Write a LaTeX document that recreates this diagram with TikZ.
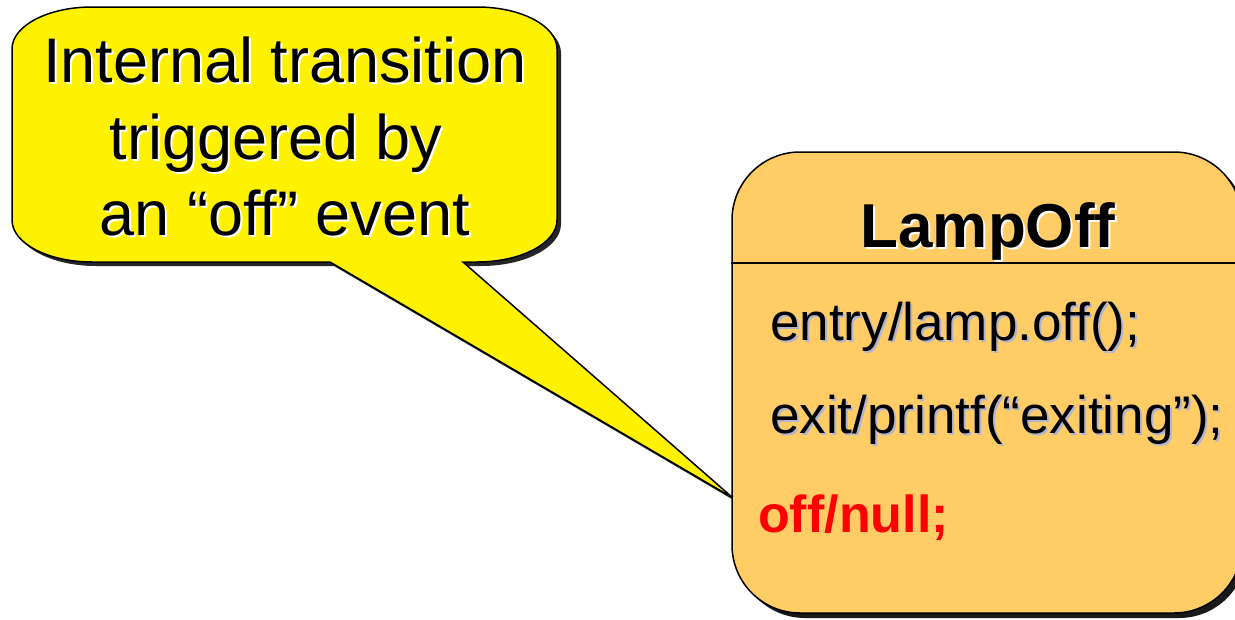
\documentclass[tikz,border=0pt]{standalone}
\usepackage{fontspec}
\setmainfont{Liberation Sans}
\usepackage{xcolor}
\usepackage{tikz}
\usetikzlibrary{calc,shadows}

\definecolor{stateorange}{RGB}{255,204,102}
\definecolor{shadowblue}{RGB}{176,180,205}
% text with an offset copy behind it
\newcommand{\shtext}[2]{\rlap{\kern2pt\raisebox{-2pt}{\textcolor{#1}{#2}}}#2}

\begin{document}
\begin{tikzpicture}[
    x=1pt, y=-1pt,
    notebody/.style={draw, line width=1.5pt, fill=yellow, line join=miter, miter limit=4,
        drop shadow={shadow xshift=4pt, shadow yshift=-4pt, opacity=1, fill=black!85}},
    statebox/.style={draw, line width=1.5pt, fill=stateorange, rounded corners=68pt, minimum width=510pt, minimum height=461pt,
        drop shadow={shadow xshift=5pt, shadow yshift=-5pt, opacity=1, fill=black!90}},
    notetext/.style={align=center, inner sep=0pt, font=\fontsize{63}{76.5}\selectfont},
    titletext/.style={inner sep=0pt, anchor=base, font=\bfseries\fontsize{62}{70}\selectfont},
    statetext/.style={inner sep=0pt, anchor=base west, font=\fontsize{53}{60}\selectfont}
]
\useasboundingbox (0,0) rectangle (1235,619);

% Note with its pointer
\coordinate (tip) at (733,498);
\path[notebody] (92,7) -- (477,7) arc[start angle=90, end angle=0, x radius=80pt, y radius=42pt]
    -- (557,220) arc[start angle=0, end angle=-90, x radius=80pt, y radius=42pt]
    -- (463,262) -- (tip) -- (330,262)
    -- (92,262) arc[start angle=-90, end angle=-180, x radius=80pt, y radius=42pt]
    -- (12,49) arc[start angle=180, end angle=90, x radius=80pt, y radius=42pt] -- cycle;
\node[notetext] (note) at (285,137.5) {\shtext{white}{Internal transition}\\ \shtext{white}{triggered by}\rule{18pt}{0pt}\\ \shtext{white}{an “off” event}};

% State
\node[statebox] (lamp) at (987,382.5) {};
\draw[line width=1.5pt] (lamp.west |- 0,263) -- (lamp.east |- 0,263);
\node[titletext] (title) at (988,247) {\shtext{white}{LampOff}};
\node[statetext] (entry) at (770,340) {\shtext{shadowblue}{entry/lamp.off();}};
\node[statetext] (exit) at (770,433) {\shtext{shadowblue}{exit/printf(“exiting”);}};
\node[statetext, red, font=\bfseries\fontsize{52}{60}\selectfont] (internal) at (758,532) {off/null;};
\end{tikzpicture}
\end{document}
